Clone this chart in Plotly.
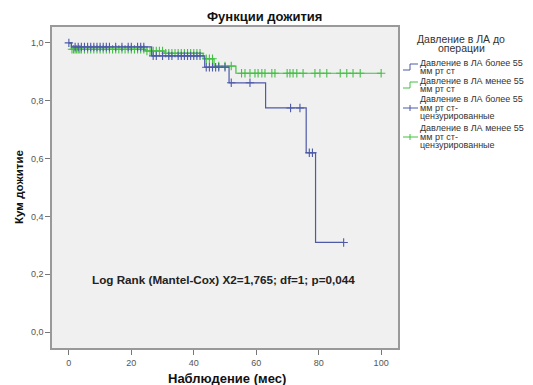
import plotly.graph_objects as go

# ---- data ----
blue_event_t = [0.8, 26.5, 43.5, 51.3, 63.0, 76.0, 79.0]
blue_event_s = [0.986, 0.955, 0.916, 0.862, 0.775, 0.620, 0.310]
blue_censor_t = [0, 2, 3, 4, 5, 6, 7, 8, 9, 10, 11, 12, 13, 15, 17, 19, 20, 22, 23, 24,
                 27, 28, 30, 32, 33, 35, 36, 37, 38, 39, 40, 41, 42,
                 44, 45, 46, 47, 48, 50, 52, 58, 71, 74, 77, 78, 88]

green_event_t = [0.8, 24.5, 30.5, 43.0, 46.5, 53.5]
green_event_s = [0.978, 0.972, 0.964, 0.945, 0.920, 0.895]
green_censor_t = [1, 1.5, 2, 2.5, 3, 3.5, 4, 5, 6, 7, 8, 9, 10, 11, 12, 13, 14, 15, 16, 17,
                  18, 19, 20, 21, 22, 23, 24, 25, 26, 27, 28, 29, 30,
                  31, 32, 33, 34, 35, 36, 37, 38, 39, 40, 41, 42, 44, 45, 46, 48, 50, 52,
                  55.3, 56.4, 58, 59.6, 60.6, 61.8, 62.8, 65, 66, 69.9, 70.8, 71.8, 73, 75,
                  78.8, 80.4, 82.6, 86.9, 89, 91, 93.3, 100]

y_ticks = [0.0, 0.2, 0.4, 0.6, 0.8, 1.0]
y_ticklabels = ["0,0", "0,2", "0,4", "0,6", "0,8", "1,0"]
x_ticks = [0, 20, 40, 60, 80, 100]

legend_title_lines = ["Давление в ЛА до", "операции"]
legend_label_lines = [
    ["Давление в ЛА более 55", "мм рт ст"],
    ["Давление в ЛА менее 55", "мм рт ст"],
    ["Давление в ЛА более 55", "мм рт ст-", "цензурированные"],
    ["Давление в ЛА менее 55", "мм рт ст-", "цензурированные"],
]

BLUE = "#4d5aa8"
GREEN = "#43c043"
FONT = "Liberation Sans, Arial, sans-serif"


def surv_at(t, ev_t, ev_s):
    s = 1.0
    for et, es in zip(ev_t, ev_s):
        if et <= t:
            s = es
    return s


def step_xy(ev_t, ev_s, cens_t):
    xs = [0] + list(ev_t) + [max(cens_t)]
    ys = [1.0] + list(ev_s) + [ev_s[-1]]
    return xs, ys


fig = go.Figure()
for ev_t, ev_s, cens_t, col in [
    (green_event_t, green_event_s, green_censor_t, GREEN),
    (blue_event_t, blue_event_s, blue_censor_t, BLUE),
]:
    xs, ys = step_xy(ev_t, ev_s, cens_t)
    fig.add_trace(go.Scatter(x=xs, y=ys, mode="lines", line=dict(color=col, width=1.2, shape="hv"),
                             showlegend=False, hoverinfo="skip"))
    fig.add_trace(go.Scatter(x=cens_t, y=[surv_at(t, ev_t, ev_s) for t in cens_t], mode="markers",
                             marker=dict(symbol="cross-thin", size=6, line=dict(color=col, width=1.1)),
                             showlegend=False, hoverinfo="skip"))

# page body has an 8px margin -> figure origin sits at (8, 8) of the window
OFF = 8
W, H = 533 - OFF, 385 - OFF
L, R, T, B = 52 - OFF, 398 - OFF, 27 - OFF, 348 - OFF


def px(x):
    return (x - OFF - L) / (R - L)


def py(y):
    return (B - (y - OFF)) / (B - T)


shapes = []
annotations = []

for line, ly in zip(legend_title_lines, [39, 48]):
    annotations.append(dict(x=px(461), y=py(ly), xref="paper", yref="paper", text=line,
                            showarrow=False, xanchor="center", yanchor="middle",
                            font=dict(family=FONT, size=10.5, color="#333")))

line_ys = [[63, 71], [81, 89], [99, 108, 116], [128, 137, 145]]
sym_ys = [67, 85, 108, 137]
colors = [BLUE, GREEN, BLUE, GREEN]
for i, (lines, lys, ey, col) in enumerate(zip(legend_label_lines, line_ys, sym_ys, colors)):
    for line, ly in zip(lines, lys):
        annotations.append(dict(x=px(418), y=py(ly), xref="paper", yref="paper", text=line,
                                showarrow=False, xanchor="left", yanchor="middle",
                                font=dict(family=FONT, size=9, color="#333")))
    if i < 2:
        y0 = ey + 3
        y1 = ey - 3
        path = f"M {px(403)} {py(y0)} L {px(410)} {py(y0)} L {px(410)} {py(y1)} L {px(418)} {py(y1)}"
        shapes.append(dict(type="path", xref="paper", yref="paper", path=path,
                           line=dict(color=col, width=1)))
    else:
        shapes.append(dict(type="line", xref="paper", yref="paper", x0=px(403), x1=px(418),
                           y0=py(ey), y1=py(ey), line=dict(color=col, width=1)))
        shapes.append(dict(type="line", xref="paper", yref="paper", x0=px(410), x1=px(410),
                           y0=py(ey - 3), y1=py(ey + 3), line=dict(color=col, width=1)))

annotations.append(dict(x=px(223), y=py(279), xref="paper", yref="paper",
                        text="<b>Log Rank (Mantel-Cox) X2=1,765; df=1; p=0,044</b>",
                        showarrow=False, xanchor="center", yanchor="middle",
                        font=dict(family=FONT, size=11.7, color="#222")))

annotations.append(dict(x=px(227), y=py(378), xref="paper", yref="paper",
                        text="<b>Наблюдение (мес)</b>", showarrow=False,
                        xanchor="center", yanchor="middle",
                        font=dict(family=FONT, size=13, color="#111")))
annotations.append(dict(x=px(18), y=py(187), xref="paper", yref="paper",
                        text="<b>Кум дожитие</b>", showarrow=False, textangle=-90,
                        xanchor="center", yanchor="middle",
                        font=dict(family=FONT, size=11.6, color="#111")))
annotations.append(dict(x=px(264), y=py(16), xref="paper", yref="paper",
                        text="<b>Функции дожития</b>", showarrow=False,
                        xanchor="center", yanchor="middle",
                        font=dict(family=FONT, size=13, color="#111")))

fig.update_layout(
    width=W, height=H,
    margin=dict(l=L, r=W - R, t=T, b=H - B, autoexpand=False),
    paper_bgcolor="white",
    plot_bgcolor="#f0f0f0",
    xaxis=dict(range=[-5.4, 105.4], tickvals=x_ticks, ticks="outside", ticklen=5, tickwidth=1,
               tickcolor="#777", showgrid=False, zeroline=False, showline=True, linecolor="#999",
               linewidth=1.5, mirror=True, automargin=False,
               tickfont=dict(family=FONT, size=9, color="#555")),
    yaxis=dict(range=[-0.055, 1.055], tickvals=y_ticks, ticktext=y_ticklabels, ticks="outside",
               ticklen=5, tickwidth=1, tickcolor="#777", showgrid=False, zeroline=False,
               showline=True, linecolor="#999", linewidth=1.5, mirror=True, automargin=False,
               tickfont=dict(family=FONT, size=9, color="#555")),
    shapes=shapes,
    annotations=annotations,
)

fig.write_html("out.html")
